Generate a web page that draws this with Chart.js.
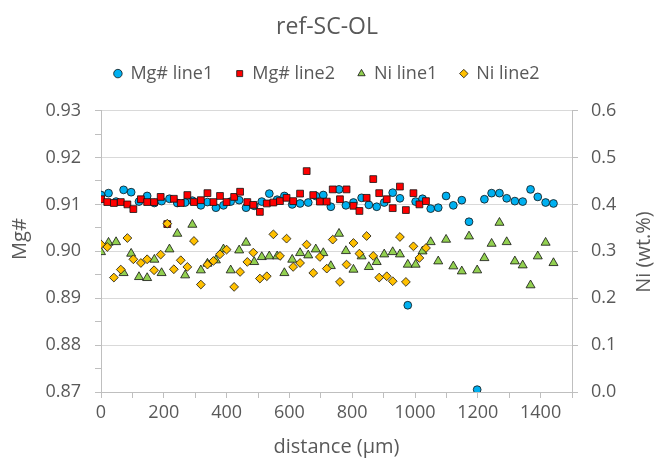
<!DOCTYPE html>
<html><head><meta charset="utf-8">
<script src="https://cdn.jsdelivr.net/npm/chart.js@4.4.1/dist/chart.umd.min.js"></script>
<style>html,body{margin:0;padding:0;background:#fff}#wrap{width:654px;height:464px}</style>
</head><body><div id="wrap"><canvas id="c" width="654" height="464"></canvas></div>
<script>
const chartTitle = 'ref-SC-OL';
const xTitle = 'distance (µm)';
const yLeftTitle = 'Mg#';
const yRightTitle = 'Ni (wt.%)';
const seriesNames = ['Mg# line1', 'Mg# line2', 'Ni line1', 'Ni line2'];

// distances (µm) of analysis points, line 1 and line 2
const dist1 = [0,24,48,72,96,121,147,170,193,218,243,268,291,318,339,366,390,413,440,462,
  488,512,536,561,584,609,634,660,684,708,732,758,780,804,830,853,878,902,929,952,
  977,1002,1024,1050,1074,1099,1122,1149,1172,1198,1221,1244,1269,1292,1318,1343,1368,1391,1416,1441];
const dist2 = [0,20,41,63,84,103,127,147,169,190,211,232,254,275,296,318,339,358,379,400,
  424,443,466,485,506,528,549,570,591,612,634,655,676,697,719,738,761,782,804,823,
  846,867,886,910,929,952,971,995,1014,1035];

const mgLine1 = [0.9120,0.9124,0.9106,0.9131,0.9126,0.9106,0.9118,0.9103,0.9107,0.9112,
  0.9103,0.9104,0.9108,0.9098,0.9105,0.9093,0.9098,0.9106,0.9109,0.9093,
  0.9097,0.9106,0.9123,0.9110,0.9118,0.9100,0.9102,0.9104,0.9118,0.9120,
  0.9095,0.9132,0.9098,0.9104,0.9114,0.9099,0.9095,0.9104,0.9125,0.9113,
  0.8885,0.9106,0.9112,0.9091,0.9093,0.9118,0.9098,0.9109,0.9063,0.8705,
  0.9111,0.9124,0.9124,0.9113,0.9107,0.9106,0.9132,0.9116,0.9104,0.9102];
const mgLine2 = [0.9111,0.9105,0.9103,0.9105,0.9100,0.9090,0.9111,0.9105,0.9105,0.9116,
  0.9058,0.9112,0.9103,0.9120,0.9105,0.9109,0.9124,0.9105,0.9118,0.9105,
  0.9116,0.9127,0.9105,0.9099,0.9084,0.9102,0.9104,0.9107,0.9114,0.9107,
  0.9123,0.9171,0.9120,0.9106,0.9106,0.9132,0.9111,0.9132,0.9097,0.9086,
  0.9114,0.9154,0.9124,0.9111,0.9092,0.9138,0.9088,0.9124,0.9100,0.9107];
const niLine1 = [0.2985,0.3185,0.3198,0.2538,0.2951,0.2453,0.2432,0.2823,0.2538,0.3043,
  0.3376,0.2489,0.3568,0.2596,0.2738,0.2809,0.3043,0.2596,0.3021,0.3185,
  0.2773,0.2879,0.2894,0.2894,0.2538,0.2823,0.2964,0.2915,0.3043,0.2964,
  0.2687,0.3376,0.3007,0.2610,0.2894,0.2667,0.2773,0.2936,0.2985,0.2936,
  0.2717,0.2717,0.3000,0.3198,0.2787,0.3249,0.2681,0.2574,0.3319,0.2596,
  0.2857,0.3163,0.3610,0.3198,0.2787,0.2702,0.2277,0.2894,0.3185,0.2751];
const niLine2 = [0.3149,0.3092,0.2440,0.2611,0.3283,0.2830,0.2751,0.2830,0.2596,0.2929,
  0.3589,0.2617,0.2809,0.2667,0.3220,0.2291,0.2717,0.2794,0.2936,0.3036,
  0.2241,0.2560,0.2773,0.2972,0.2419,0.2468,0.3362,0.2901,0.3270,0.2667,
  0.2751,0.3142,0.2538,0.2879,0.2631,0.3249,0.2347,0.2717,0.3177,0.2951,
  0.3326,0.2901,0.2440,0.2468,0.2362,0.3305,0.2347,0.3106,0.2858,0.3071];

const FONT = '"Open Sans", "Liberation Sans", sans-serif';
const TXT = '#595959';
const AXIS = '#BFBFBF';
const GRID = '#D9D9D9';

function pts(xs, ys) { return xs.map((x, i) => ({x: x, y: ys[i]})); }

const legendGap = {
  id: 'legendGap',
  beforeInit(chart) {
    const fit = chart.legend.fit;
    chart.legend.fit = function () { fit.bind(chart.legend)(); this.height += 18; };
  }
};
const sideTitles = {
  id: 'sideTitles',
  afterDraw(chart) {
    const ctx = chart.ctx;
    ctx.save();
    ctx.fillStyle = TXT;
    ctx.font = '20px ' + FONT;
    ctx.textAlign = 'center';
    ctx.textBaseline = 'middle';
    ctx.translate(20, 239); ctx.rotate(-Math.PI / 2); ctx.fillText(yLeftTitle, 0, 0);
    ctx.restore();
    ctx.save();
    ctx.fillStyle = TXT;
    ctx.font = '20px ' + FONT;
    ctx.textAlign = 'center';
    ctx.textBaseline = 'middle';
    ctx.translate(644, 252); ctx.rotate(-Math.PI / 2); ctx.fillText(yRightTitle, 0, 0);
    ctx.restore();
  }
};

new Chart(document.getElementById('c'), {
  type: 'scatter',
  data: {
    datasets: [
      {label: seriesNames[0], data: pts(dist1, mgLine1), yAxisID: 'y', pointStyle: 'circle', pointRadius: 3.9,
       backgroundColor: '#00B0F0', borderColor: '#111', borderWidth: 0.8, order: 4},
      {label: seriesNames[1], data: pts(dist2, mgLine2), yAxisID: 'y', pointStyle: 'rect', pointRadius: 4.8,
       backgroundColor: '#FF0000', borderColor: '#111', borderWidth: 0.8, order: 3},
      {label: seriesNames[2], data: pts(dist1, niLine1), yAxisID: 'y2', pointStyle: 'triangle', pointRadius: 5.2,
       backgroundColor: '#92D050', borderColor: '#111', borderWidth: 0.8, order: 2},
      {label: seriesNames[3], data: pts(dist2, niLine2), yAxisID: 'y2', pointStyle: 'rectRot', pointRadius: 4.4,
       backgroundColor: '#FFC000', borderColor: '#111', borderWidth: 0.8, order: 1}
    ]
  },
  options: {
    responsive: false,
    animation: false,
    layout: {padding: 0},
    plugins: {
      title: {display: true, text: chartTitle, color: TXT, font: {family: FONT, size: 23, weight: 'normal'},
              padding: {top: 14, bottom: 0}},
      legend: {display: true, position: 'top',
               labels: {usePointStyle: true, boxWidth: 7, boxHeight: 6, padding: 23, color: TXT,
                        font: {family: FONT, size: 18},
                        sort: (a, b) => a.datasetIndex - b.datasetIndex}},
      tooltip: {enabled: false}
    },
    scales: {
      x: {
        type: 'linear', position: 'bottom', min: 0, max: 1500,
        afterFit(s) { s.height = 72; },
        ticks: {stepSize: 100, autoSkip: false, maxRotation: 0, padding: 4, color: TXT,
                font: {family: FONT, size: 18},
                callback: v => (Math.round(v) % 200 === 0 && v < 1500) ? String(v) : ''},
        grid: {drawOnChartArea: false, tickLength: 6, tickColor: AXIS, color: AXIS},
        border: {color: AXIS, width: 1},
        title: {display: true, text: xTitle, color: TXT, font: {family: FONT, size: 20}, padding: {top: 0, bottom: 5}}
      },
      y: {
        type: 'linear', position: 'left', min: 0.87, max: 0.93,
        afterFit(s) { s.width = 101; },
        ticks: {stepSize: 0.005, autoSkip: false, padding: 14, color: TXT, font: {family: FONT, size: 18},
                callback: v => (Math.round(v * 1000) % 10 === 0) ? v.toFixed(2) : ''},
        grid: {tickLength: 6, tickColor: AXIS,
               color: c => (c.tick && Math.round(c.tick.value * 1000) % 10 === 0) ? GRID : 'rgba(0,0,0,0)'},
        border: {color: AXIS, width: 1}
      },
      y2: {
        type: 'linear', position: 'right', min: 0, max: 0.6,
        afterFit(s) { s.width = 82; },
        ticks: {stepSize: 0.1, autoSkip: false, padding: 13, color: TXT, font: {family: FONT, size: 18},
                callback: v => v.toFixed(1)},
        grid: {drawOnChartArea: false, tickLength: 6, tickColor: AXIS, color: AXIS},
        border: {color: AXIS, width: 1}
      }
    }
  },
  plugins: [legendGap, sideTitles]
});
</script>
</body></html>
